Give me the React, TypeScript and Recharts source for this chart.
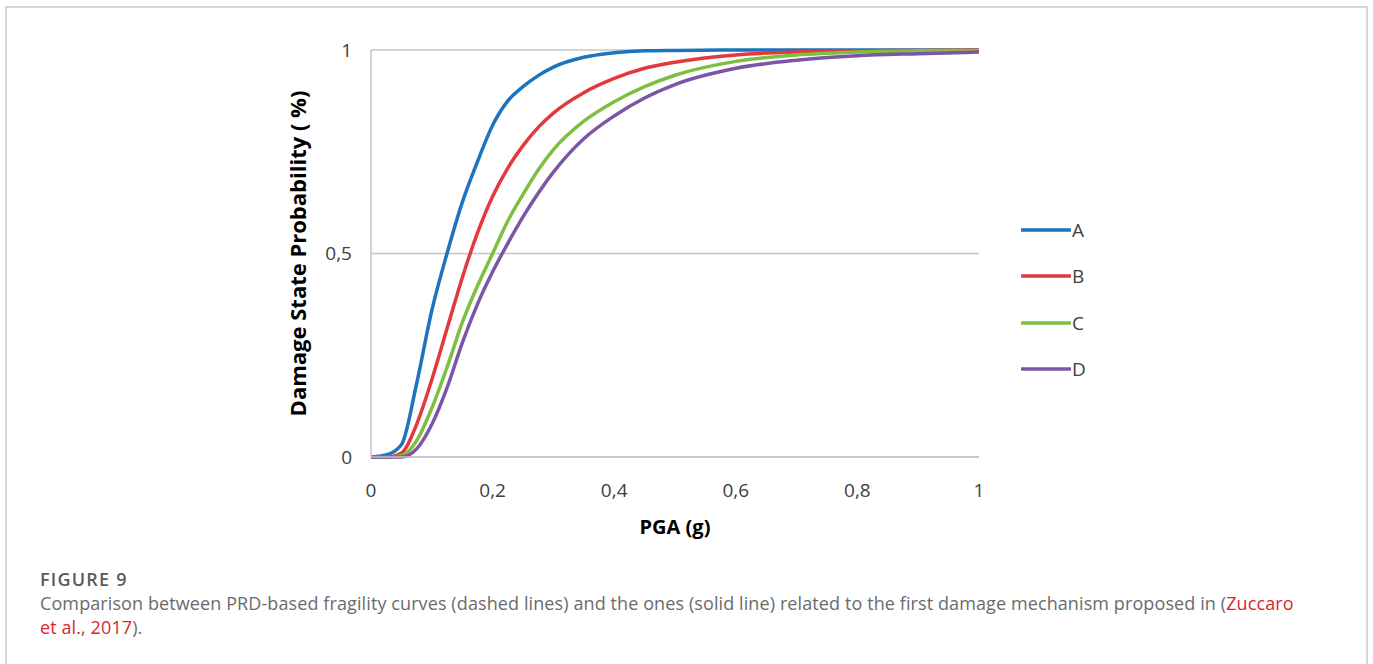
import React from 'react';
import { LineChart, Line, XAxis, YAxis, CartesianGrid, Label } from 'recharts';

// PGA (g) sample points shared by all curves
const pga = [0, 0.025, 0.05, 0.075, 0.1, 0.125, 0.15, 0.175, 0.2, 0.225, 0.25, 0.275, 0.3, 0.35, 0.4, 0.45, 0.5, 0.6, 0.7, 0.8, 0.9, 1];

const seriesA = [0, 0.005, 0.03, 0.18, 0.36, 0.5, 0.625, 0.725, 0.815, 0.875, 0.91, 0.937, 0.958, 0.982, 0.993, 0.998, 0.999, 1, 1, 1, 1, 1];
const seriesB = [0, 0, 0.01, 0.08, 0.19, 0.315, 0.44, 0.55, 0.64, 0.71, 0.765, 0.81, 0.845, 0.895, 0.93, 0.955, 0.97, 0.988, 0.995, 0.998, 0.999, 1];
const seriesC = [0, 0, 0.003, 0.04, 0.12, 0.22, 0.33, 0.42, 0.5, 0.58, 0.645, 0.705, 0.755, 0.825, 0.873, 0.91, 0.938, 0.972, 0.988, 0.995, 0.998, 0.999];
const seriesD = [0, 0, 0, 0.02, 0.08, 0.17, 0.28, 0.375, 0.455, 0.525, 0.59, 0.648, 0.7, 0.782, 0.838, 0.882, 0.915, 0.955, 0.975, 0.986, 0.991, 0.995];

const xTicks = [0, 0.2, 0.4, 0.6, 0.8, 1];
const yTicks = [0, 0.5, 1];

const seriesNames = ['A', 'B', 'C', 'D'];
const colors = ['#1e73be', '#e4393c', '#7fbf3f', '#7d55a6'];

const data = pga.map((x, i) => ({
  x,
  A: seriesA[i],
  B: seriesB[i],
  C: seriesC[i],
  D: seriesD[i],
}));

const fmt = (v: number) => String(v).replace('.', ',');

const chartFont = '"Open Sans", sans-serif';

const App: React.FC = () => {
  return (
    <div style={{ position: 'absolute', left: 0, top: 0, width: 1373, height: 664, background: '#fff', overflow: 'hidden' }}>
      <div
        style={{
          position: 'absolute',
          left: 5,
          top: 6,
          width: 1359,
          height: 700,
          border: '2px solid #d8d8d8',
        }}
      />
      <div style={{ position: 'absolute', left: 0, top: 0 }}>
        <LineChart width={1373} height={545} data={data} margin={{ top: 50, right: 394, left: 311, bottom: 58 }}>
          <CartesianGrid vertical={false} stroke="#c4c4c4" strokeWidth={1.5} />
          <XAxis
            dataKey="x"
            type="number"
            domain={[0, 1]}
            ticks={xTicks}
            tickFormatter={fmt}
            axisLine={{ stroke: '#c4c4c4', strokeWidth: 1.5 }}
            tickLine={false}
            tickSize={0}
            tickMargin={27}
            height={30}
            tick={{ fill: '#404040', fontSize: 19, fontFamily: chartFont }}
          >
            <Label
              value="PGA (g)"
              position="bottom"
              offset={33}
              style={{ fill: '#000', fontSize: 20, fontWeight: 700, fontFamily: chartFont }}
            />
          </XAxis>
          <YAxis
            type="number"
            domain={[0, 1]}
            ticks={yTicks}
            tickFormatter={fmt}
            axisLine={{ stroke: '#c4c4c4', strokeWidth: 1.5 }}
            tickLine={false}
            tickSize={0}
            tickMargin={19}
            width={60}
            tick={{ fill: '#404040', fontSize: 19, fontFamily: chartFont }}
          >
            <Label
              value="Damage State Probability ( %)"
              angle={-90}
              position="insideLeft"
              offset={-13}
              style={{ textAnchor: 'middle', fill: '#000', fontSize: 22, fontWeight: 700, fontFamily: chartFont }}
            />
          </YAxis>
          {seriesNames.map((name, i) => (
            <Line
              key={name}
              type="monotone"
              dataKey={name}
              stroke={colors[i]}
              strokeWidth={3.5}
              dot={false}
              isAnimationActive={false}
            />
          ))}
        </LineChart>
      </div>
      {/* legend sits to the right of the plot, outside the chart layout */}
      <div style={{ position: 'absolute', left: 1021, top: 207, fontFamily: chartFont }}>
        {seriesNames.map((name, i) => (
          <div key={name} style={{ display: 'flex', alignItems: 'center', height: 46.3 }}>
            <svg width={50} height={6}>
              <line x1={1} y1={3} x2={49} y2={3} stroke={colors[i]} strokeWidth={3.5} strokeLinecap="round" />
            </svg>
            <span style={{ fontSize: 19, color: '#404040', marginLeft: 1 }}>{name}</span>
          </div>
        ))}
      </div>
      <div
        style={{
          position: 'absolute',
          left: 40,
          top: 567,
          fontFamily: '"Open Sans", sans-serif',
          fontSize: 18,
          lineHeight: '24px',
          color: '#6b6b6b',
          letterSpacing: 0.1,
        }}
      >
        <div style={{ fontWeight: 600, color: '#5a5a5a', fontSize: 18, letterSpacing: 1.2 }}>FIGURE 9</div>
        <div>
          Comparison between PRD-based fragility curves (dashed lines) and the ones (solid line) related to the first damage mechanism proposed in (<span style={{ color: '#d9262c' }}>Zuccaro</span>
          <br />
          <span style={{ color: '#d9262c' }}>et al., 2017</span>).
        </div>
      </div>
    </div>
  );
};

export default App;
